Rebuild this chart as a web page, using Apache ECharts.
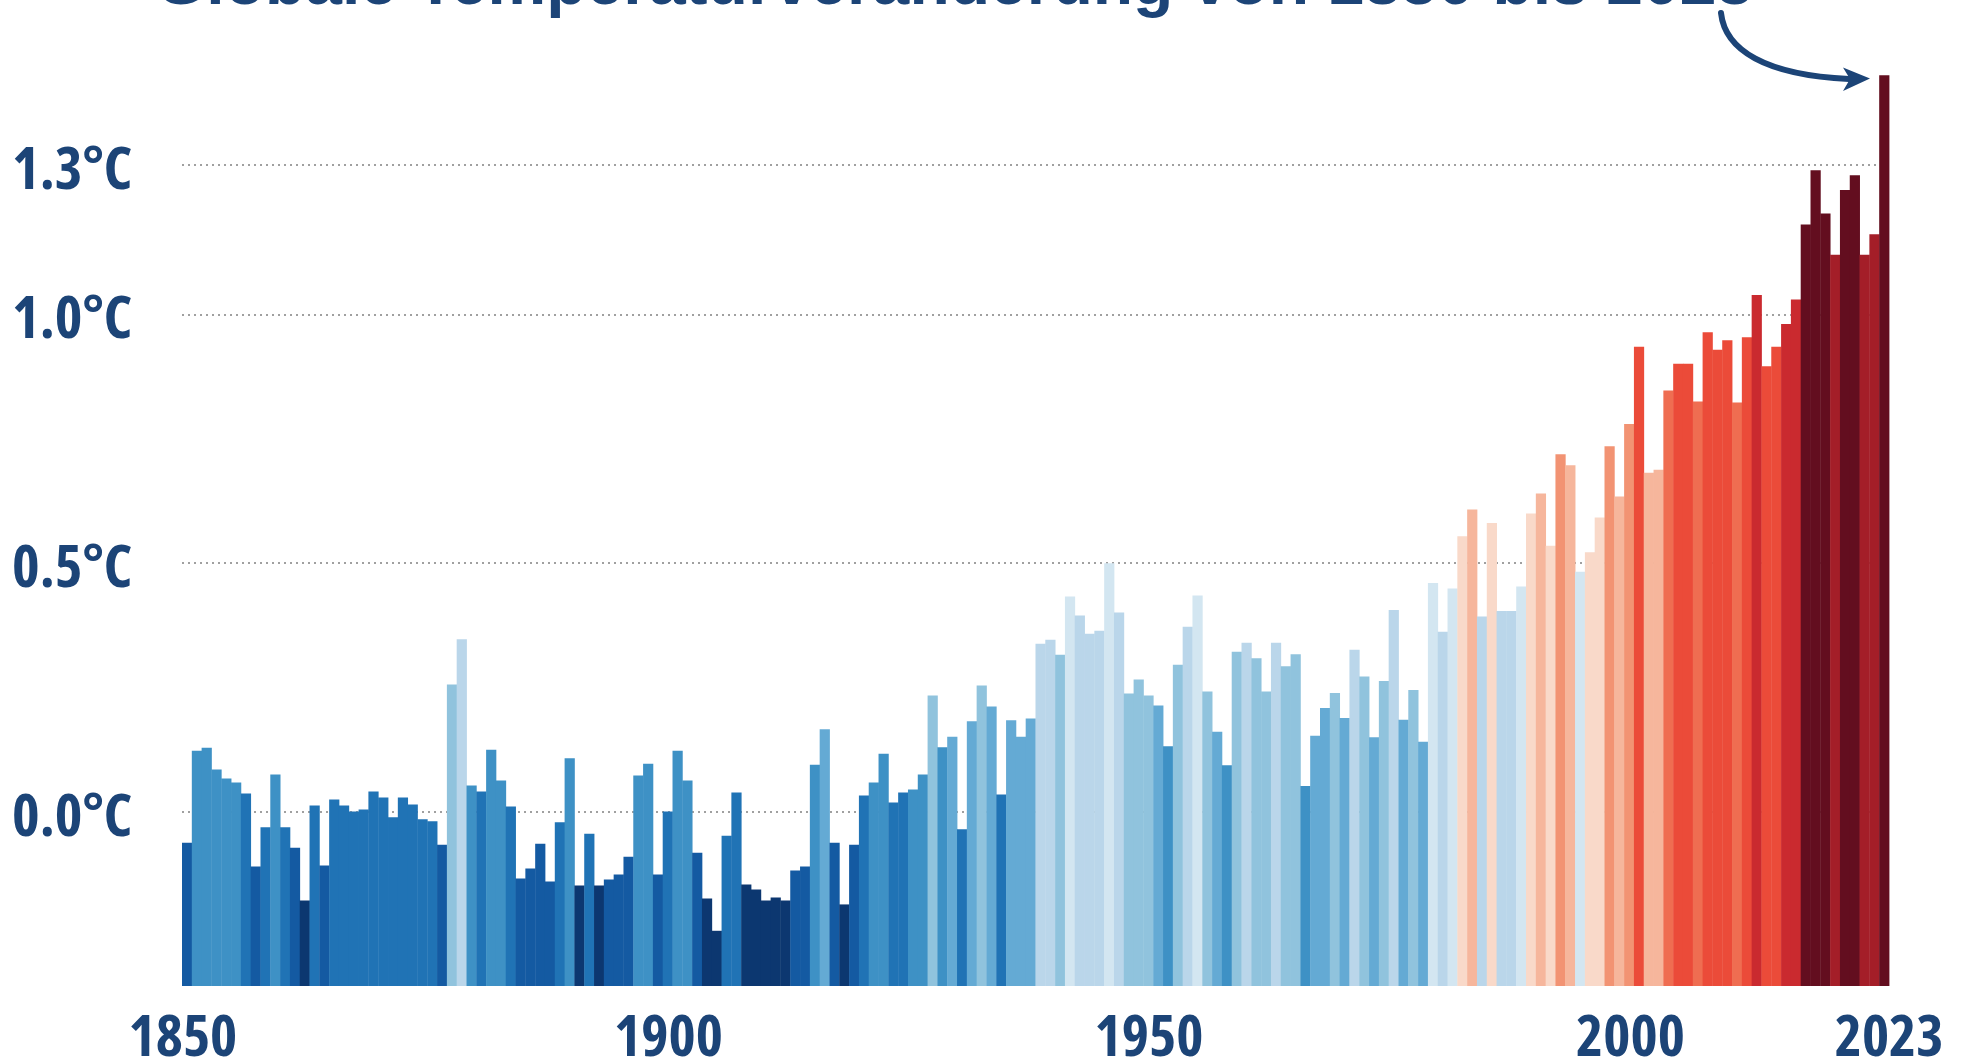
<!DOCTYPE html>
<html>
<head>
<meta charset="utf-8">
<title>Globale Temperaturveränderung</title>
<script src="https://cdn.jsdelivr.net/npm/echarts@6/dist/echarts.min.js"></script>
<style>
	html, body { margin: 0; padding: 0; background: #fff; }
	#chart { width: 1968px; height: 1062px; }
</style>
</head>
<body>
<div id="chart"></div>
<script>
	// Jahresmittel der globalen Temperatur, Abweichung zu 1850-1900 (°C)
	const firstYear = 1850
	const lastYear = 2023
	const years = []
	for (let y = firstYear; y <= lastYear; y++) years.push(String(y))

	const anomalies = [
		-0.062, 0.123, 0.129, 0.085, 0.067, 0.059, 0.037, -0.110, -0.031, 0.075,
		-0.031, -0.072, -0.178, 0.013, -0.108, 0.025, 0.013, 0.001, 0.005, 0.041,
		0.029, -0.011, 0.029, 0.015, -0.015, -0.019, -0.066, 0.256, 0.347, 0.053,
		0.041, 0.125, 0.063, 0.011, -0.134, -0.114, -0.064, -0.140, -0.021, 0.108,
		-0.148, -0.044, -0.148, -0.136, -0.126, -0.090, 0.073, 0.097, -0.126, 0.001,
		0.123, 0.063, -0.082, -0.174, -0.239, -0.048, 0.039, -0.146, -0.156, -0.178,
		-0.172, -0.178, -0.118, -0.110, 0.095, 0.166, -0.062, -0.186, -0.066, 0.033,
		0.059, 0.117, 0.019, 0.039, 0.045, 0.075, 0.234, 0.130, 0.151, -0.035,
		0.182, 0.254, 0.212, 0.035, 0.184, 0.151, 0.188, 0.338, 0.346, 0.316,
		0.433, 0.395, 0.358, 0.364, 0.500, 0.401, 0.238, 0.266, 0.234, 0.214,
		0.132, 0.296, 0.372, 0.435, 0.242, 0.161, 0.094, 0.322, 0.340, 0.309,
		0.242, 0.340, 0.293, 0.317, 0.052, 0.153, 0.209, 0.239, 0.189, 0.326,
		0.272, 0.150, 0.263, 0.406, 0.185, 0.245, 0.141, 0.460, 0.362, 0.449,
		0.554, 0.608, 0.393, 0.581, 0.404, 0.404, 0.453, 0.600, 0.640, 0.535,
		0.719, 0.697, 0.483, 0.522, 0.592, 0.735, 0.634, 0.780, 0.935, 0.682,
		0.688, 0.847, 0.901, 0.901, 0.825, 0.964, 0.929, 0.948, 0.823, 0.954,
		1.039, 0.896, 0.935, 0.981, 1.030, 1.181, 1.290, 1.203, 1.120, 1.250,
		1.280, 1.120, 1.161, 1.481
	]

	// Achsenbeschriftungen
	const yTicks = [0, 0.5, 1.0, 1.3]
	const xLabelYears = ['1850', '1900', '1950', '2000', '2023']
	const titleText = 'Globale Temperaturveränderung von 1850 bis 2023'

	// Farbstufen (Warming Stripes), Grenzen in °C
	const stepEdges = [-0.143, -0.0495, 0.044, 0.1375, 0.231, 0.3245, 0.418, 0.5115,
		0.605, 0.6985, 0.792, 0.8855, 0.979, 1.0725, 1.166]
	const stepColors = ['#0c3770', '#145aa2', '#2073b5', '#3e91c5', '#64aad4', '#90c3dd',
		'#bad6ea', '#d3e6f1', '#f9d9c9', '#f6b69c', '#f29373', '#ef6d51', '#eb4b39',
		'#ca2a2f', '#a41e28', '#630e1f']

	const navy = '#1c4477'
	// schmale Schrift: Open Sans mit condensed-Breite
	const narrowFamily = '"Open Sans", Roboto, sans-serif'
	const narrowWeight = 'condensed bold'
	const xLabelSize = 58
	const yLabelSize = 59

	// kleine Verschiebung der Jahreszahlen wie im Original
	const xLabelShift = { 1850: -4, 1900: -9, 1950: -19, 2000: -28, 2023: 5 }

	const yMin = -0.35
	const yMax = 1.6

	const pieces = stepColors.map((c, i) => {
		const p = { color: c }
		if (i > 0) p.gte = stepEdges[i - 1]
		if (i < stepEdges.length) p.lt = stepEdges[i]
		return p
	})

	const labelBase = {
		fontFamily: narrowFamily,
		fontWeight: narrowWeight,
		fontSize: xLabelSize,
		lineHeight: xLabelSize,
		color: navy
	}
	const rich = {}
	xLabelYears.forEach((y) => {
		const s = xLabelShift[y] || 0
		rich['y' + y] = Object.assign({}, labelBase, {
			padding: s < 0 ? [0, -2 * s, 0, 0] : [0, 0, 0, 2 * s]
		})
	})

	const chartDom = document.getElementById('chart')
	const myChart = echarts.init(chartDom, null, { renderer: 'canvas' })

	const option = {
		animation: false,
		backgroundColor: '#ffffff',
		title: {
			text: titleText,
			left: 150,
			top: -52,
			textStyle: {
				fontFamily: '"Liberation Sans", Arial, sans-serif',
				fontWeight: 'bold',
				fontSize: 66,
				lineHeight: 66,
				color: navy
			}
		},
		grid: {
			left: 182,
			right: 79,
			top: 16,
			bottom: 76,
			containLabel: false,
			outerBoundsMode: 'none'
		},
		visualMap: {
			show: false,
			type: 'piecewise',
			dimension: 1,
			seriesIndex: 0,
			pieces: pieces
		},
		xAxis: {
			type: 'category',
			data: years,
			boundaryGap: true,
			axisLine: { show: false },
			axisTick: { show: false },
			splitLine: { show: false },
			axisLabel: {
				interval: (index, value) => xLabelYears.indexOf(value) >= 0,
				margin: 24,
				formatter: (value) => '{y' + value + '|' + value + '}',
				rich: rich,
				fontFamily: narrowFamily,
				fontWeight: narrowWeight,
				fontSize: xLabelSize,
				lineHeight: xLabelSize,
				color: navy
			}
		},
		yAxis: {
			type: 'value',
			min: yMin,
			max: yMax,
			axisLine: { show: false },
			axisTick: { show: false, customValues: yTicks },
			axisLabel: {
				customValues: yTicks,
				align: 'left',
				verticalAlign: 'top',
				lineHeight: 14,
				margin: 170,
				formatter: (v) => v.toFixed(1) + '°C',
				fontFamily: narrowFamily,
				fontWeight: narrowWeight,
				fontSize: yLabelSize,
				color: navy
			},
			splitLine: {
				show: true,
				lineStyle: {
					color: '#a0a0a0',
					width: 2,
					type: [2, 4]
				}
			}
		},
		series: [
			{
				// Balken laufen von der Unterkante der Achse bis zum Jahreswert
				type: 'custom',
				data: anomalies.map((v, i) => [i, v]),
				encode: { x: 0, y: 1 },
				renderItem: (params, api) => {
					const i = api.value(0)
					const v = api.value(1)
					const top = api.coord([i, v])
					const bottom = api.coord([i, yMin])
					const w = api.size([1, 0])[0]
					return {
						type: 'rect',
						shape: {
							x: top[0] - w / 2,
							y: top[1],
							width: w + 0.4,
							height: bottom[1] - top[1]
						},
						style: { fill: api.visual('color') }
					}
				}
			}
		],
		graphic: [
			{
				// Pfeil vom Titel zum Rekordjahr
				type: 'bezierCurve',
				shape: {
					x1: 1721, y1: 13,
					cpx1: 1725, cpy1: 50,
					cpx2: 1765, cpy2: 75,
					x2: 1849, y2: 79
				},
				style: { stroke: navy, lineWidth: 6, fill: null, lineCap: 'round' }
			},
			{
				type: 'polygon',
				shape: { points: [[1870, 78.6], [1843, 67.5], [1850, 79], [1843, 91]] },
				style: { fill: navy }
			}
		]
	}

	myChart.setOption(option)
</script>
</body>
</html>
